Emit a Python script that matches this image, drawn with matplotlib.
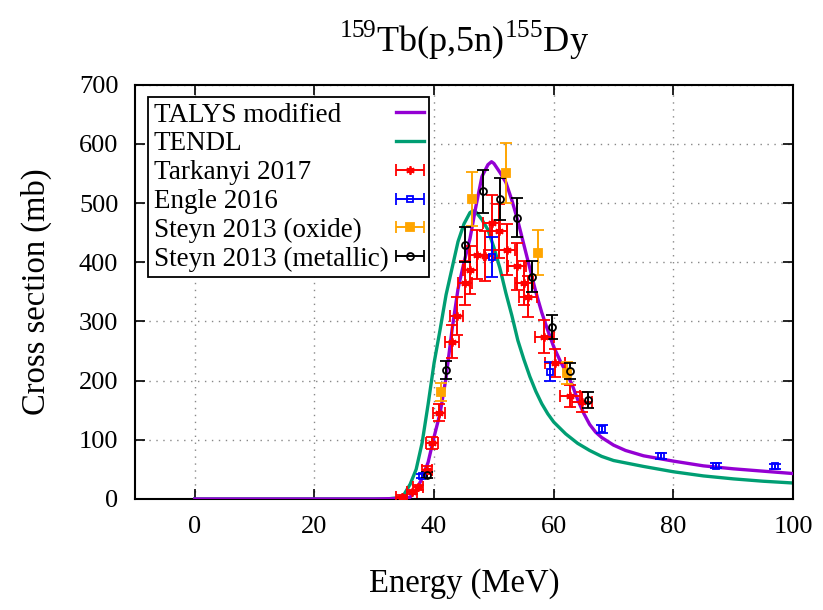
import numpy as np
import matplotlib
matplotlib.use("Agg")
import matplotlib.pyplot as plt

plt.rcParams['font.family'] = ['Liberation Serif', 'DejaVu Serif']
plt.rcParams['mathtext.fontset'] = 'custom'
plt.rcParams['mathtext.rm'] = 'Liberation Serif'

# model curves
talys_e = [0, 30, 35, 36, 37, 38, 39, 40, 41, 42, 43, 44, 45, 46, 47, 48, 49, 49.6,
           50, 51, 52, 53, 54, 55, 56, 57, 58, 59, 60, 61, 62, 63, 64, 65, 66, 67,
           68, 70, 72, 75, 80, 85, 90, 95, 100]
talys_xs = [0, 0, 1, 3, 15, 35, 62, 105, 145, 205, 286, 355, 400, 440, 495, 545, 565, 570,
            567, 552, 535, 505, 470, 430, 390, 350, 315, 285, 257, 235, 215, 195, 168, 145, 126, 113,
            104, 91, 82, 73, 64, 56, 51, 47, 43]

tendl_e = [0, 32, 33, 34, 35, 36, 37, 38, 39, 40, 41, 42, 43, 44, 45, 46, 46.5, 47, 48,
           49, 50, 51, 52, 53, 54, 55, 56, 57, 58, 59, 60, 62, 64, 66, 68, 70, 75,
           80, 85, 90, 95, 100]
tendl_xs = [0, 0, 1, 2, 8, 25, 50, 95, 160, 230, 286, 345, 390, 435, 465, 484, 487, 485, 472,
            455, 425, 390, 348, 310, 268, 236, 207, 182, 161, 144, 130, 110, 94, 82, 72, 65, 55,
            46, 39, 34, 30, 27]

# Tarkanyi 2017
tark_e = [34.6, 36.3, 37.3, 38.8, 39.6, 40.8, 43.0, 43.8, 45.2, 46.0, 47.1, 48.5, 49.6,
          50.8, 52.2, 53.8, 55.0, 55.7, 58.4, 60.2, 62.7, 64.7]
tark_xs = [4, 12, 20, 49, 94, 146, 266, 309, 365, 387, 413, 411, 467,
           453, 421, 393, 365, 342, 274, 230, 174, 164]
tark_de = [0.9, 0.9, 0.9, 0.9, 1.0, 1.0, 1.1, 1.1, 1.2, 1.2, 1.3, 1.3, 1.4,
           1.4, 1.4, 1.5, 1.5, 1.5, 1.6, 1.6, 1.7, 1.7]
tark_dxs = [2, 3, 4, 6, 10, 15, 28, 32, 38, 40, 42, 42, 47,
            46, 43, 40, 38, 35, 28, 24, 18, 17]

# Engle 2016
engle_e = [38.0, 49.7, 59.4, 68.0, 77.9, 87.1, 97.0]
engle_xs = [39, 409, 215, 118, 73, 56, 55]
engle_dxs = [4, 34, 16, 7, 5, 4, 4]

# Steyn 2013 oxide
oxide_e = [41.1, 46.4, 52.1, 57.4, 62.2]
oxide_xs = [181, 507, 551, 416, 213]
oxide_dxs = [15, 46, 50, 38, 18]

# Steyn 2013 metallic
metal_e = [38.8, 42.0, 45.2, 48.1, 51.0, 53.8, 56.4, 59.7, 62.7, 65.8]
metal_xs = [40, 218, 430, 520, 507, 475, 376, 291, 216, 167]
metal_dxs = [5, 15, 30, 36, 35, 33, 27, 20, 14, 13]

fig = plt.figure(figsize=(8.23, 6.10), dpi=100)
ax = fig.add_axes([0.164, 0.182, 0.7996, 0.679])

ax.plot(talys_e, talys_xs, color='#9400D3', lw=2.4, label='TALYS modified', zorder=3)
ax.plot(tendl_e, tendl_xs, color='#009E73', lw=2.4, label='TENDL', zorder=2)

ekw = dict(linestyle='none', elinewidth=1.4, capsize=4.5, capthick=1.4, zorder=4)
styles = [
    ('Tarkanyi 2017', 'red', dict(marker=(6, 2, 0), ms=6, mew=1.3)),
    ('Engle 2016', 'blue', dict(marker='s', mfc='none', ms=5, mew=1.3)),
    ('Steyn 2013 (oxide)', 'orange', dict(marker='s', ms=6, mew=1.3)),
    ('Steyn 2013 (metallic)', 'black', dict(marker='o', mfc='none', ms=5, mew=1.3)),
]
ax.errorbar(tark_e, tark_xs, xerr=tark_de, yerr=tark_dxs, color='red', **styles[0][2], **ekw)
ax.errorbar(engle_e, engle_xs, yerr=engle_dxs, color='blue', **styles[1][2], **ekw)
ax.errorbar(oxide_e, oxide_xs, yerr=oxide_dxs, color='orange', **styles[2][2], **ekw)
ax.errorbar(metal_e, metal_xs, yerr=metal_dxs, color='black', **styles[3][2], **ekw)

# gnuplot style key samples: horizontal bar with end caps
handles, labels = ax.get_legend_handles_labels()
for name, c, mk in styles:
    proxy = ax.errorbar([np.nan], [np.nan], xerr=[1], color=c, **mk, **ekw)
    handles.append(proxy)
    labels.append(name)

ax.set_xlim(-10, 100)
ax.set_ylim(0, 700)
ax.set_xticks(np.arange(0, 101, 20))
ax.set_yticks(np.arange(0, 701, 100))
ax.grid(True, linestyle=(0, (1, 4)), color='#888888', lw=1)
ax.tick_params(direction='in', top=True, right=True, length=7, width=1.2,
               labelsize=19)
ax.tick_params(axis='x', pad=12)
ax.tick_params(axis='y', pad=12)
for s in ax.spines.values():
    s.set_linewidth(1.5)

ax.set_xlabel('Energy (MeV)', fontsize=23.5, labelpad=22)
ax.set_ylabel('Cross section (mb)', fontsize=23.5, labelpad=19)
ax.set_title(r'$^{159}$Tb(p,5n)$^{155}$Dy', fontsize=26, pad=24)

leg = ax.legend(handles, labels, loc='upper left', bbox_to_anchor=(0.02, 0.97),
                borderaxespad=0, markerfirst=False, fontsize=19.5, fancybox=False,
                framealpha=1, edgecolor='black', handlelength=1.0, handletextpad=0.3,
                labelspacing=0.14, borderpad=0.2)
leg.get_frame().set_linewidth(1.3)

# left-align labels while keeping the samples in one column on the right
fig.canvas.draw()
r = fig.canvas.get_renderer()
col = leg._legend_handle_box.get_children()[0]
items = col.get_children()
w = max(it.get_bbox(r).width for it in items)
for it in items:
    it.width = w
    it.mode = 'expand'
col.align = 'left'

fig.savefig('out.png', dpi=100)
